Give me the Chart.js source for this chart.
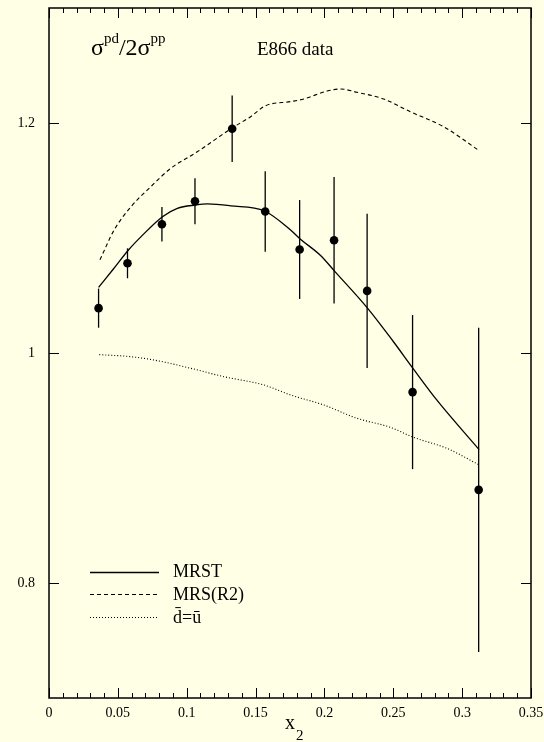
<!DOCTYPE html>
<html><head><meta charset="utf-8">
<script src="https://cdn.jsdelivr.net/npm/chart.js@4/dist/chart.umd.min.js"></script>
<style>html,body{margin:0;padding:0;background:#ffffe6;}#wrap{width:544px;height:742px;}</style>
</head><body><div id="wrap"><canvas id="c" width="544" height="742"></canvas></div>
<script>
// E866 data points
const e866X   = [0.036, 0.057, 0.082, 0.106, 0.133, 0.157, 0.182, 0.207, 0.231, 0.264, 0.312];
const e866Y   = [1.039, 1.078, 1.112, 1.132, 1.195, 1.123, 1.090, 1.098, 1.054, 0.966, 0.881];
const e866Err = [0.017, 0.013, 0.015, 0.020, 0.029, 0.035, 0.043, 0.055, 0.067, 0.067, 0.141];
// MRST curve
const mrstX = [0.036, 0.0466, 0.058, 0.0667, 0.0824, 0.0932, 0.1068, 0.115, 0.1319, 0.1565, 0.1754, 0.1826, 0.197, 0.2075, 0.232, 0.250, 0.2647, 0.2817, 0.3123];
const mrstY = [1.057, 1.0728, 1.090, 1.101, 1.1185, 1.1258, 1.1287, 1.1296, 1.128, 1.1235, 1.107, 1.099, 1.085, 1.071, 1.038, 1.010, 0.986, 0.959, 0.916];
// MRS(R2) curve
const mrsX = [0.037, 0.0473, 0.0594, 0.0739, 0.0884, 0.1077, 0.1326, 0.1464, 0.1572, 0.1754, 0.185, 0.202, 0.2116, 0.2237, 0.243, 0.2623, 0.2865, 0.3123];
const mrsY = [1.081, 1.107, 1.127, 1.1446, 1.1606, 1.175, 1.1954, 1.2055, 1.215, 1.2186, 1.2209, 1.2278, 1.2296, 1.2267, 1.2209, 1.2098, 1.1968, 1.176];
// dbar = ubar curve
const dbarX = [0.0365, 0.0594, 0.0788, 0.1029, 0.127, 0.156, 0.1754, 0.1995, 0.2237, 0.2478, 0.2647, 0.2889, 0.3125];
const dbarY = [0.9986, 0.9968, 0.9933, 0.9867, 0.9794, 0.9722, 0.9635, 0.9548, 0.9432, 0.9354, 0.9267, 0.9171, 0.9026];
// ticks
const xTickValues = [0, 0.05, 0.1, 0.15, 0.2, 0.25, 0.3, 0.35];
const xTickLabels = ['0', '0.05', '0.1', '0.15', '0.2', '0.25', '0.3', '0.35'];
const xMinorValues = [0.01,0.02,0.03,0.04,0.06,0.07,0.08,0.09,0.11,0.12,0.13,0.14,0.16,0.17,0.18,0.19,0.21,0.22,0.23,0.24,0.26,0.27,0.28,0.29,0.31,0.32,0.33,0.34];
const yTickValues = [0.8, 1.0, 1.2];
const yTickLabels = ['0.8', '1', '1.2'];
const seriesLabels = ['MRST', 'MRS(R2)', 'd\u0304=u\u0304'];

const BG = '#ffffe6';
const SERIF = '"Liberation Serif", "Times New Roman", serif';

const zip = (xs, ys) => xs.map((x, i) => ({x: x, y: ys[i]}));
const noPad = ax => { ax.paddingLeft = 0; ax.paddingRight = 0; ax.paddingTop = 0; ax.paddingBottom = 0; };

const decor = {
  id: 'decor',
  beforeDraw(chart) {
    const c = chart.ctx;
    c.save(); c.fillStyle = BG; c.fillRect(0, 0, chart.width, chart.height); c.restore();
  },
  afterDatasetsDraw(chart) {
    const c = chart.ctx, xs = chart.scales.x, ys = chart.scales.y;
    c.save();
    c.strokeStyle = '#000'; c.lineWidth = 1.3;
    e866X.forEach((x, i) => {
      const px = xs.getPixelForValue(x);
      c.beginPath();
      c.moveTo(px, ys.getPixelForValue(e866Y[i] + e866Err[i]));
      c.lineTo(px, ys.getPixelForValue(e866Y[i] - e866Err[i]));
      c.stroke();
    });
    c.restore();
  },
  afterDraw(chart) {
    const c = chart.ctx, a = chart.chartArea, xs = chart.scales.x, ys = chart.scales.y;
    c.save();
    c.strokeStyle = '#000'; c.lineWidth = 1.5;
    c.strokeRect(a.left, a.top, a.right - a.left, a.bottom - a.top);
    c.lineWidth = 1;
    c.beginPath();
    xTickValues.forEach(v => {
      const p = Math.round(xs.getPixelForValue(v)) + 0.5;
      c.moveTo(p, a.bottom); c.lineTo(p, a.bottom - 10);
      c.moveTo(p, a.top); c.lineTo(p, a.top + 10);
    });
    xMinorValues.forEach(v => {
      const p = Math.round(xs.getPixelForValue(v)) + 0.5;
      c.moveTo(p, a.bottom); c.lineTo(p, a.bottom - 5);
      c.moveTo(p, a.top); c.lineTo(p, a.top + 5);
    });
    yTickValues.forEach(v => {
      const p = Math.round(ys.getPixelForValue(v)) + 0.5;
      c.moveTo(a.left, p); c.lineTo(a.left + 10, p);
      c.moveTo(a.right, p); c.lineTo(a.right - 10, p);
    });
    c.stroke();

    c.fillStyle = '#000';
    c.textBaseline = 'alphabetic'; c.textAlign = 'left';
    let x = 91;
    c.font = '24px ' + SERIF; c.fillText('\u03C3', x, 55); x += c.measureText('\u03C3').width;
    c.font = '15px ' + SERIF; c.fillText('pd', x, 43); x += c.measureText('pd').width;
    c.font = '24px ' + SERIF; c.fillText('/2\u03C3', x, 55); x += c.measureText('/2\u03C3').width;
    c.font = '15px ' + SERIF; c.fillText('pp', x, 43);
    c.font = '19px ' + SERIF; c.fillText('E866 data', 257, 55);
    c.font = '20px ' + SERIF; c.fillText('x', 285, 729);
    const xw = c.measureText('x').width;
    c.font = '15px ' + SERIF; c.fillText('2', 285 + xw + 1, 740);
    const ds = chart.data.datasets;
    const rows = [{ds: 1, ly: 572, ty: 577}, {ds: 2, ly: 594, ty: 600}, {ds: 3, ly: 617, ty: 623}];
    c.font = '18px ' + SERIF;
    rows.forEach(r => {
      const d = ds[r.ds];
      c.save();
      c.strokeStyle = '#000'; c.lineWidth = d.borderWidth; c.setLineDash(d.borderDash || []);
      c.beginPath(); c.moveTo(90, r.ly + 0.5); c.lineTo(159, r.ly + 0.5); c.stroke();
      c.restore();
      c.fillText(d.label, 173, r.ty);
    });
    c.restore();
  }
};

new Chart(document.getElementById('c'), {
  type: 'scatter',
  data: {
    datasets: [
      {label: 'E866 data', data: zip(e866X, e866Y), showLine: false, pointRadius: 4.3,
       pointBackgroundColor: '#000', pointBorderWidth: 0, pointStyle: 'circle'},
      {label: seriesLabels[0], data: zip(mrstX, mrstY), showLine: true, pointRadius: 0,
       borderColor: '#000', borderWidth: 1.3, cubicInterpolationMode: 'monotone'},
      {label: seriesLabels[1], data: zip(mrsX, mrsY), showLine: true, pointRadius: 0,
       borderColor: '#000', borderWidth: 1.1, borderDash: [4, 3], cubicInterpolationMode: 'monotone'},
      {label: seriesLabels[2], data: zip(dbarX, dbarY), showLine: true, pointRadius: 0,
       borderColor: '#000', borderWidth: 1.1, borderDash: [1, 2], cubicInterpolationMode: 'monotone'}
    ]
  },
  options: {
    responsive: false, devicePixelRatio: 1, animation: false,
    layout: {padding: {top: 8, right: 13, left: 0, bottom: 0}},
    plugins: {legend: {display: false}, tooltip: {enabled: false}},
    scales: {
      x: {
        type: 'linear', min: 0, max: 0.35,
        afterBuildTicks: ax => { ax.ticks = xTickValues.map(v => ({value: v})); },
        afterFit: ax => { ax.height = 44; noPad(ax); },
        grid: {display: false, drawTicks: false}, border: {display: false},
        ticks: {callback: (v, i) => xTickLabels[i], color: '#000', padding: 7,
                maxRotation: 0, autoSkip: false, font: {family: SERIF, size: 14}}
      },
      y: {
        type: 'linear', min: 0.7, max: 1.3,
        afterBuildTicks: ax => { ax.ticks = yTickValues.map(v => ({value: v})); },
        afterFit: ax => { ax.width = 49; noPad(ax); },
        grid: {display: false, drawTicks: false}, border: {display: false},
        ticks: {callback: (v, i) => yTickLabels[i], color: '#000', padding: 14,
                autoSkip: false, font: {family: SERIF, size: 14}}
      }
    }
  },
  plugins: [decor]
});
</script></body></html>
